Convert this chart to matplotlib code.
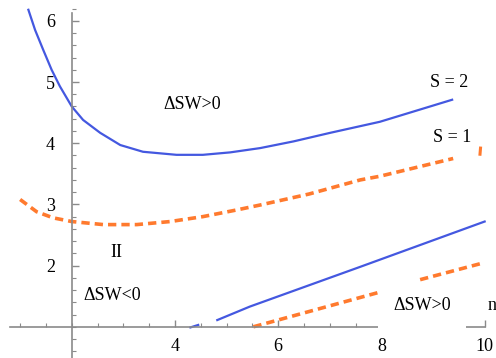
import matplotlib
matplotlib.use("Agg")
import matplotlib.pyplot as plt
from matplotlib.ticker import MultipleLocator, FixedLocator

plt.rcParams['font.family'] = ['Liberation Serif', 'DejaVu Serif']

# curves (n on x, value on y)
s2_upper_x = [1.16, 1.29, 1.45, 1.61, 1.77, 2.0, 2.22, 2.55, 2.94, 3.38, 4.03, 4.54,
              5.07, 5.65, 6.3, 7.01, 7.97, 9.37]
s2_upper_y = [6.18, 5.85, 5.52, 5.20, 4.93, 4.60, 4.38, 4.17, 3.97, 3.86, 3.81, 3.81,
              3.85, 3.92, 4.03, 4.17, 4.35, 4.71]

s2_lower_x = [4.82, 5.45, 7.59, 10.0]
s2_lower_y = [1.11, 1.33, 1.98, 2.72]
s2_stub_x = [4.30, 4.45]
s2_stub_y = [0.99, 1.03]

s1_upper_x = [1.0, 1.32, 1.64, 2.0, 2.61, 3.26, 3.91, 4.54, 5.20, 5.65, 6.6, 7.59, 7.97, 9.39]
s1_upper_y = [3.08, 2.88, 2.78, 2.72, 2.67, 2.67, 2.72, 2.80, 2.91, 2.99, 3.17, 3.40, 3.46, 3.75]
s1_tail_x = [9.91, 9.92]
s1_tail_y = [3.82, 3.92]

s1_lower_x = [5.52, 7.94]
s1_lower_y = [1.0, 1.56]
s1_lower2_x = [8.75, 10.0]
s1_lower2_y = [1.77, 2.05]

x_ticks = [4, 6, 8, 10]
y_ticks = [2, 3, 4, 5, 6]

blue = '#4458E0'
orange = '#FF7A2E'
axis_grey = '#8a8a8a'

fig = plt.figure(figsize=(4.96, 3.58), dpi=100)
ax = fig.add_axes([0, 0, 1, 1])

ax.plot(s2_upper_x, s2_upper_y, color=blue, lw=1.6)
ax.plot(s2_lower_x, s2_lower_y, color=blue, lw=1.6)
ax.plot(s2_stub_x, s2_stub_y, color=blue, lw=1.6)

dash = dict(color=orange, lw=2.6, dashes=(2.3, 1.4), dash_capstyle='butt')
ax.plot(s1_upper_x, s1_upper_y, **dash)
ax.plot(s1_tail_x, s1_tail_y, color=orange, lw=2.2)
ax.plot(s1_lower_x, s1_lower_y, **dash)
ax.plot(s1_lower2_x, s1_lower2_y, **dash)

ax.set_xlim(0.61, 10.22)
ax.set_ylim(0.49, 6.34)

# axes crossing at (2, 1), Mathematica style
for side in ['top', 'right']:
    ax.spines[side].set_visible(False)
ax.spines['left'].set_position(('data', 2))
ax.spines['bottom'].set_position(('data', 1))
ax.spines['left'].set_bounds(0.49, 6.13)
ax.spines['bottom'].set_bounds(0.8, 10.0)
for side in ['left', 'bottom']:
    ax.spines[side].set_color(axis_grey)
    ax.spines[side].set_linewidth(1.2)
    ax.spines[side].set_zorder(2.5)

ax.xaxis.set_major_locator(FixedLocator(x_ticks))
ax.yaxis.set_major_locator(FixedLocator(y_ticks))
ax.xaxis.set_minor_locator(MultipleLocator(0.5))
ax.yaxis.set_minor_locator(MultipleLocator(0.2))
ax.tick_params(which='major', direction='in', length=5, width=1, color=axis_grey,
               labelsize=13)
ax.tick_params(which='minor', direction='in', length=3, width=0.8, color=axis_grey)
ax.tick_params(axis='y', which='major', pad=12)
ax.tick_params(axis='x', which='major', pad=8)

ax.text(4.34, 4.64, 'ΔSW>0', fontsize=13, ha='center', va='center')
ax.text(9.32, 5.0, 'S = 2', fontsize=13, ha='center', va='center')
ax.text(9.37, 4.10, 'S = 1', fontsize=13, ha='center', va='center')
ax.text(2.86, 2.22, 'II', fontsize=13, ha='center', va='center')
ax.text(2.78, 1.51, 'ΔSW<0', fontsize=13, ha='center', va='center')
ax.text(8.79, 1.34, 'ΔSW>0', fontsize=13, ha='center', va='center',
        bbox=dict(facecolor='white', edgecolor='none', pad=11), zorder=4)
ax.text(10.15, 1.34, 'n', fontsize=13, ha='center', va='center', clip_on=False)

fig.savefig('out.png', dpi=100)
